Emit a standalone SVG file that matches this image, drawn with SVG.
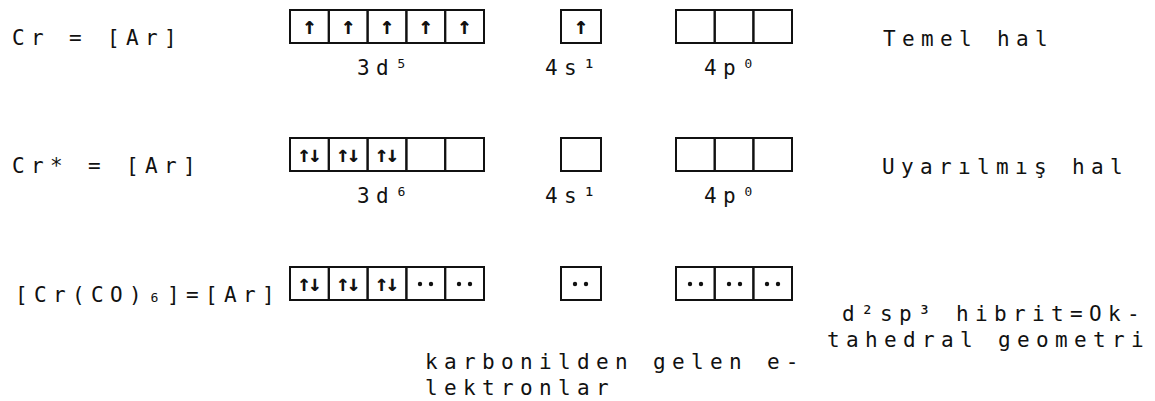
<svg xmlns="http://www.w3.org/2000/svg" width="1155" height="401" viewBox="0 0 1155 401">
<style>
  .t { font-family: "DejaVu Sans Mono", "Liberation Mono", monospace; font-size: 21px; letter-spacing: 6.35px; fill: #111; }
  .box { fill: none; stroke: #111; stroke-width: 2; }
  .ar { font-family: "DejaVu Sans Mono", "Liberation Mono", monospace; font-size: 24px; font-weight: bold; fill: #111; text-anchor: middle; }
  .ar2 { font-family: "DejaVu Sans Mono", "Liberation Mono", monospace; font-size: 23px; font-weight: bold; fill: #111; text-anchor: middle; letter-spacing: -3px; }
  .dot { fill: #111; }
</style>
<rect width="1155" height="401" fill="#fff"/>

<g id="row1-label"><text class="t" x="12" y="45">Cr = [Ar]</text></g>
<g id="row1-3d">
  <rect class="box" x="290" y="10" width="38.8" height="33"/>
  <rect class="box" x="328.8" y="10" width="38.8" height="33"/>
  <rect class="box" x="367.6" y="10" width="38.8" height="33"/>
  <rect class="box" x="406.4" y="10" width="38.8" height="33"/>
  <rect class="box" x="445.2" y="10" width="38.8" height="33"/>
  <text class="ar" x="309.4" y="34">↑</text>
  <text class="ar" x="348.2" y="34">↑</text>
  <text class="ar" x="387" y="34">↑</text>
  <text class="ar" x="425.8" y="34">↑</text>
  <text class="ar" x="464.6" y="34">↑</text>
  <text class="t" x="357" y="75">3d⁵</text>
</g>
<g id="row1-4s">
  <rect class="box" x="561" y="10" width="40" height="33"/>
  <text class="ar" x="581" y="34">↑</text>
  <text class="t" x="545" y="75">4s¹</text>
</g>
<g id="row1-4p">
  <rect class="box" x="676" y="10" width="38.7" height="33"/>
  <rect class="box" x="714.7" y="10" width="38.7" height="33"/>
  <rect class="box" x="753.4" y="10" width="38.6" height="33"/>
  <text class="t" x="704" y="75">4p⁰</text>
</g>
<g id="row1-state"><text class="t" x="883" y="46">Temel hal</text></g>

<g id="row2-label"><text class="t" x="12" y="173">Cr* = [Ar]</text></g>
<g id="row2-3d">
  <rect class="box" x="290" y="138" width="38.8" height="33"/>
  <rect class="box" x="328.8" y="138" width="38.8" height="33"/>
  <rect class="box" x="367.6" y="138" width="38.8" height="33"/>
  <rect class="box" x="406.4" y="138" width="38.8" height="33"/>
  <rect class="box" x="445.2" y="138" width="38.8" height="33"/>
  <text class="ar2" x="308" y="162">↑↓</text>
  <text class="ar2" x="346.8" y="162">↑↓</text>
  <text class="ar2" x="385.6" y="162">↑↓</text>
  <text class="t" x="357" y="203">3d⁶</text>
</g>
<g id="row2-4s">
  <rect class="box" x="561" y="138" width="40" height="33"/>
  <text class="t" x="545" y="203">4s¹</text>
</g>
<g id="row2-4p">
  <rect class="box" x="676" y="138" width="38.7" height="33"/>
  <rect class="box" x="714.7" y="138" width="38.7" height="33"/>
  <rect class="box" x="753.4" y="138" width="38.6" height="33"/>
  <text class="t" x="704" y="203">4p⁰</text>
</g>
<g id="row2-state"><text class="t" x="882" y="174">Uyarılmış hal</text></g>

<g id="row3-label"><text class="t" x="15" y="302">[Cr(CO)₆]=[Ar]</text></g>
<g id="row3-3d">
  <rect class="box" x="290" y="267" width="38.8" height="33"/>
  <rect class="box" x="328.8" y="267" width="38.8" height="33"/>
  <rect class="box" x="367.6" y="267" width="38.8" height="33"/>
  <rect class="box" x="406.4" y="267" width="38.8" height="33"/>
  <rect class="box" x="445.2" y="267" width="38.8" height="33"/>
  <text class="ar2" x="308" y="291">↑↓</text>
  <text class="ar2" x="346.8" y="291">↑↓</text>
  <text class="ar2" x="385.6" y="291">↑↓</text>
  <circle class="dot" cx="420" cy="284" r="2.2"/>
  <circle class="dot" cx="431" cy="284" r="2.2"/>
  <circle class="dot" cx="459" cy="284" r="2.2"/>
  <circle class="dot" cx="470" cy="284" r="2.2"/>
</g>
<g id="row3-4s">
  <rect class="box" x="561" y="267" width="40" height="33"/>
  <circle class="dot" cx="575" cy="284" r="2.2"/>
  <circle class="dot" cx="586" cy="284" r="2.2"/>
</g>
<g id="row3-4p">
  <rect class="box" x="676" y="267" width="38.7" height="33"/>
  <rect class="box" x="714.7" y="267" width="38.7" height="33"/>
  <rect class="box" x="753.4" y="267" width="38.6" height="33"/>
  <circle class="dot" cx="690" cy="284" r="2.2"/>
  <circle class="dot" cx="701" cy="284" r="2.2"/>
  <circle class="dot" cx="729" cy="284" r="2.2"/>
  <circle class="dot" cx="740" cy="284" r="2.2"/>
  <circle class="dot" cx="767" cy="284" r="2.2"/>
  <circle class="dot" cx="778" cy="284" r="2.2"/>
</g>
<g id="row3-state">
  <text class="t" x="842" y="321">d²sp³ hibrit=Ok-</text>
  <text class="t" x="827" y="347">tahedral geometri</text>
</g>
<g id="note">
  <text class="t" x="425" y="369">karbonilden gelen e-</text>
  <text class="t" x="425" y="395">lektronlar</text>
</g>
<g id="connectors"/>
</svg>
